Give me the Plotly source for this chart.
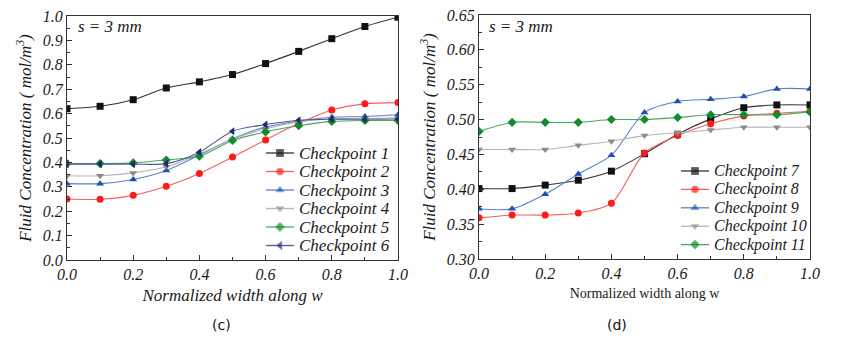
import plotly.graph_objects as go

# Normalized position along the width w
width_pos = [0.0, 0.1, 0.2, 0.3, 0.4, 0.5, 0.6, 0.7, 0.8, 0.9, 1.0]

# Panel (c): checkpoints 1-6
cp1 = [0.620, 0.630, 0.657, 0.705, 0.730, 0.760, 0.805, 0.855, 0.907, 0.957, 0.995]
cp2 = [0.250, 0.249, 0.265, 0.302, 0.355, 0.422, 0.492, 0.560, 0.615, 0.640, 0.645]
cp3 = [0.313, 0.313, 0.330, 0.367, 0.430, 0.497, 0.545, 0.570, 0.585, 0.588, 0.595]
cp4 = [0.345, 0.345, 0.357, 0.382, 0.435, 0.495, 0.538, 0.566, 0.578, 0.580, 0.583]
cp5 = [0.395, 0.395, 0.398, 0.410, 0.425, 0.490, 0.525, 0.550, 0.568, 0.572, 0.572]
cp6 = [0.393, 0.393, 0.393, 0.395, 0.442, 0.528, 0.555, 0.573, 0.577, 0.577, 0.578]

# Panel (d): checkpoints 7-11
cp7 = [0.401, 0.401, 0.406, 0.413, 0.426, 0.451, 0.479, 0.501, 0.517, 0.521, 0.521]
cp8 = [0.359, 0.363, 0.363, 0.366, 0.380, 0.452, 0.477, 0.494, 0.505, 0.509, 0.512]
cp9 = [0.372, 0.372, 0.393, 0.422, 0.449, 0.510, 0.526, 0.529, 0.533, 0.544, 0.544]
cp10 = [0.457, 0.457, 0.457, 0.463, 0.469, 0.477, 0.481, 0.485, 0.489, 0.489, 0.489]
cp11 = [0.483, 0.496, 0.496, 0.496, 0.500, 0.500, 0.503, 0.507, 0.507, 0.507, 0.511]

left_series = [
    ("Checkpoint 1", cp1, "#111111", "#333333", "square"),
    ("Checkpoint 2", cp2, "#ff1a1a", "#f56060", "circle"),
    ("Checkpoint 3", cp3, "#1f4fb0", "#5b80cc", "triangle-up"),
    ("Checkpoint 4", cp4, "#8c8c8c", "#b5b5b5", "triangle-down"),
    ("Checkpoint 5", cp5, "#128a2e", "#4aa760", "diamond"),
    ("Checkpoint 6", cp6, "#1c2b6b", "#4d5a8e", "triangle-left"),
]
right_series = [
    ("Checkpoint 7", cp7, "#111111", "#333333", "square"),
    ("Checkpoint 8", cp8, "#ff1a1a", "#f56060", "circle"),
    ("Checkpoint 9", cp9, "#1f4fb0", "#5b80cc", "triangle-up"),
    ("Checkpoint 10", cp10, "#8c8c8c", "#b5b5b5", "triangle-down"),
    ("Checkpoint 11", cp11, "#128a2e", "#4aa760", "diamond"),
]

SERIF = "Liberation Serif"
TXT = "#1a1a1a"
W, H = 852, 338

fig = go.Figure()

for name, vals, mcol, lcol, sym in left_series:
    fig.add_trace(go.Scatter(
        x=width_pos, y=vals, name=name, mode="lines+markers",
        line=dict(color=lcol, width=1.1, shape="spline", smoothing=0.8),
        marker=dict(symbol=sym, color=mcol, size=7),
        xaxis="x", yaxis="y", showlegend=False,
    ))

for name, vals, mcol, lcol, sym in right_series:
    fig.add_trace(go.Scatter(
        x=width_pos, y=vals, name=name, mode="lines+markers",
        line=dict(color=lcol, width=1.1, shape="spline", smoothing=0.8),
        marker=dict(symbol=sym, color=mcol, size=7),
        xaxis="x2", yaxis="y2", showlegend=False,
    ))


# Hand-built legends (pixel layout on a hidden full-figure overlay axis)
def add_legend(series, x_line0, x_line1, x_text, y_first, y_step, font_size):
    annos = []
    for i, (name, _vals, mcol, lcol, sym) in enumerate(series):
        yy = y_first + i * y_step
        xm = (x_line0 + x_line1) / 2
        fig.add_trace(go.Scatter(
            x=[x_line0, xm, x_line1], y=[yy, yy, yy], mode="lines+markers",
            line=dict(color=lcol, width=1.3),
            marker=dict(symbol=sym, color=mcol, size=[0, 7, 0]),
            xaxis="x3", yaxis="y3", showlegend=False, hoverinfo="skip",
        ))
        annos.append(dict(
            text=name, xref="paper", yref="paper", x=x_text / W, y=1 - yy / H,
            xanchor="left", yanchor="middle", showarrow=False,
            font=dict(family=SERIF, size=font_size, color=TXT, style="italic"),
        ))
    return annos


legend_annos = []
legend_annos += add_legend(left_series, 266, 294, 297, 153, 18.5, 17)
legend_annos += add_legend(right_series, 681, 709, 712, 171, 18.4, 16)

tick_font = dict(family=SERIF, size=16, color=TXT, style="italic")
axis_common = dict(
    showline=True, linecolor="#333333", linewidth=1.2, mirror=True,
    ticks="inside", ticklen=5, tickcolor="#333333", showgrid=False,
    zeroline=False, tickfont=tick_font, automargin=False,
)
ytitle = "Fluid Concentration ( mol/m<sup>3</sup>)"

fig.update_layout(
    width=W, height=H,
    margin=dict(l=0, r=0, t=0, b=0),
    paper_bgcolor="white", plot_bgcolor="rgba(0,0,0,0)",
    showlegend=False,
    xaxis=dict(
        domain=[67 / W, 398 / W], range=[0, 1], tickvals=[0, 0.2, 0.4, 0.6, 0.8, 1.0],
        ticktext=["0.0", "0.2", "0.4", "0.6", "0.8", "1.0"],
        minor=dict(ticks="inside", ticklen=3, dtick=0.1, tickcolor="#333333"),
        title=dict(text="Normalized width along w", font=dict(family=SERIF, size=17, color=TXT, style="italic"), standoff=6),
        anchor="y", **axis_common,
    ),
    yaxis=dict(
        domain=[1 - 260 / H, 1 - 16 / H], range=[0, 1.0], dtick=0.1, tickformat=".1f",
        minor=dict(ticks="inside", ticklen=3, dtick=0.05, tickcolor="#333333"),
        title=dict(text=ytitle, font=dict(family=SERIF, size=17, color=TXT, style="italic"), standoff=6),
        anchor="x", **axis_common,
    ),
    xaxis2=dict(
        domain=[479 / W, 810 / W], range=[0, 1], tickvals=[0, 0.2, 0.4, 0.6, 0.8, 1.0],
        ticktext=["0.0", "0.2", "0.4", "0.6", "0.8", "1.0"],
        minor=dict(ticks="inside", ticklen=3, dtick=0.1, tickcolor="#333333"),
        title=dict(text="Normalized width along w", font=dict(family=SERIF, size=14, color=TXT), standoff=6),
        anchor="y2", **axis_common,
    ),
    yaxis2=dict(
        domain=[1 - 259 / H, 1 - 15 / H], range=[0.30, 0.65], dtick=0.05, tickformat=".2f",
        minor=dict(ticks="inside", ticklen=3, dtick=0.025, tickcolor="#333333"),
        title=dict(text=ytitle, font=dict(family=SERIF, size=17, color=TXT, style="italic"), standoff=6),
        anchor="x2", **axis_common,
    ),
    xaxis3=dict(domain=[0, 1], range=[0, W], visible=False, fixedrange=True, anchor="y3"),
    yaxis3=dict(domain=[0, 1], range=[H, 0], visible=False, fixedrange=True, anchor="x3"),
    annotations=[
        dict(text="s = 3 mm", xref="paper", yref="paper", x=76 / W, y=1 - 27 / H,
             xanchor="left", yanchor="middle", showarrow=False,
             font=dict(family=SERIF, size=17, color=TXT, style="italic")),
        dict(text="s = 3 mm", xref="paper", yref="paper", x=487 / W, y=1 - 27 / H,
             xanchor="left", yanchor="middle", showarrow=False,
             font=dict(family=SERIF, size=17, color=TXT, style="italic")),
        dict(text="(c)", xref="paper", yref="paper", x=221 / W, y=1 - 325 / H,
             xanchor="center", yanchor="middle", showarrow=False,
             font=dict(family="DejaVu Sans", size=14, color="#111111")),
        dict(text="(d)", xref="paper", yref="paper", x=617 / W, y=1 - 325 / H,
             xanchor="center", yanchor="middle", showarrow=False,
             font=dict(family="DejaVu Sans", size=14, color="#111111")),
    ] + legend_annos,
)

fig.write_html("out.html")
